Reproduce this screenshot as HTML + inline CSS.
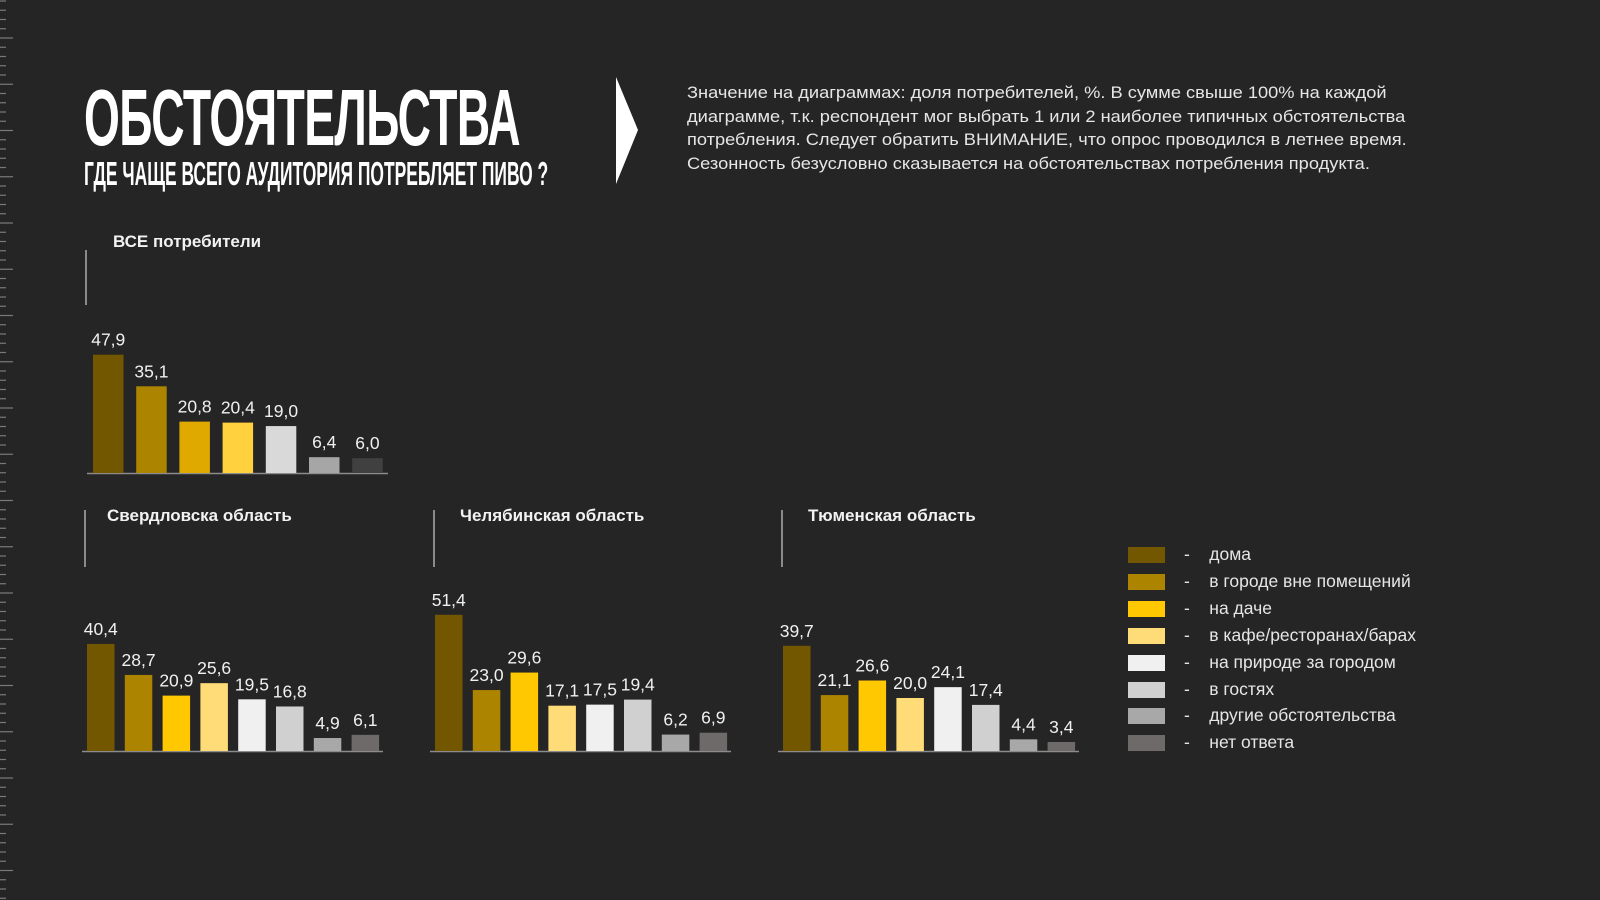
<!DOCTYPE html>
<html><head><meta charset="utf-8">
<style>
html,body{margin:0;padding:0;background:#252525;}
body{width:1600px;height:900px;position:relative;overflow:hidden;font-family:"Liberation Sans","DejaVu Sans",sans-serif;color:#fff;}
.abs{position:absolute;}
#title{left:84px;top:78px;font-family:"Liberation Sans Narrow","Liberation Sans",sans-serif;font-weight:bold;font-size:80px;line-height:80px;white-space:nowrap;transform-origin:0 0;letter-spacing:-1px;}
#subtitle{left:84px;top:157px;font-family:"Liberation Sans Narrow","Liberation Sans",sans-serif;font-weight:bold;font-size:33px;line-height:33px;white-space:nowrap;transform-origin:0 0;}
#note{left:687px;top:81px;font-size:17px;line-height:23.7px;color:#e6e6e6;white-space:nowrap;transform-origin:0 0;}
.clabel{font-weight:bold;font-size:17px;color:#f2f2f2;white-space:nowrap;}
.vline{width:2px;background:#8a8a8a;}
.leg{font-size:17.5px;color:#e6e6e6;white-space:nowrap;}
</style></head><body>
<svg id="ruler" class="abs" style="left:0;top:0" width="20" height="900"></svg>
<div id="title" class="abs">ОБСТОЯТЕЛЬСТВА</div>
<div id="subtitle" class="abs">ГДЕ ЧАЩЕ ВСЕГО АУДИТОРИЯ ПОТРЕБЛЯЕТ ПИВО ?</div>
<svg class="abs" style="left:614px;top:76px" width="26" height="110"><polygon points="2,1 24,54 2,108" fill="#fff"/></svg>
<div id="note" class="abs">Значение на диаграммах: доля потребителей, %. В сумме свыше 100% на каждой<br>диаграмме, т.к. респондент мог выбрать 1 или 2 наиболее типичных обстоятельства<br>потребления. Следует обратить ВНИМАНИЕ, что опрос проводился в летнее время.<br>Сезонность безусловно сказывается на обстоятельствах потребления продукта.</div>

<div class="abs vline" style="left:85px;top:250px;height:55px"></div>
<div class="abs clabel" style="left:113px;top:232px">ВСЕ потребители</div>
<div class="abs vline" style="left:84px;top:510px;height:57px"></div>
<div class="abs clabel" style="left:107px;top:506px">Свердловска область</div>
<div class="abs vline" style="left:433px;top:510px;height:57px"></div>
<div class="abs clabel" style="left:460px;top:506px">Челябинская область</div>
<div class="abs vline" style="left:781px;top:510px;height:57px"></div>
<div class="abs clabel" style="left:808px;top:506px">Тюменская область</div>

<svg id="charts" class="abs" style="left:0;top:0" width="1600" height="900"></svg>
<div id="legend"></div>

<script>
const categories = ["дома","в городе вне помещений","на даче","в кафе/ресторанах/барах","на природе за городом","в гостях","другие обстоятельства","нет ответа"];
const allValues = [47.9,35.1,20.8,20.4,19.0,6.4,6.0];
const sverdlovskValues = [40.4,28.7,20.9,25.6,19.5,16.8,4.9,6.1];
const chelyabinskValues = [51.4,23.0,29.6,17.1,17.5,19.4,6.2,6.9];
const tyumenValues = [39.7,21.1,26.6,20.0,24.1,17.4,4.4,3.4];

const colors = ["#725700","#ad8400","#ffc800","#ffdc78","#f0f0f0","#d0d0d0","#a8a8a8","#6f6a6a"];
const allColors = ["#725700","#ad8400","#e0a900","#ffd13f","#d9d9d9","#a6a6a6","#404040"];
const NS = "http://www.w3.org/2000/svg";
const svg = document.getElementById('charts');

function drawChart(name, values, cols, x0, step, bw, base, scale, axisX1, axisX2){
  const g = document.createElementNS(NS,'g');
  
  
  svg.appendChild(g);
  const ax = document.createElementNS(NS,'line');
  ax.setAttribute('x1',axisX1);ax.setAttribute('x2',axisX2);ax.setAttribute('y1',base+0.5);ax.setAttribute('y2',base+0.5);
  ax.setAttribute('stroke','#8c8c8c');ax.setAttribute('stroke-width','1.5');
  
  
  g.appendChild(ax);
  values.forEach((v,i)=>{
    const x = x0 + i*step, h = v*scale;
    const r = document.createElementNS(NS,'rect');
    r.setAttribute('x',x);r.setAttribute('y',base-h);r.setAttribute('width',bw);r.setAttribute('height',h);
    r.setAttribute('fill',cols[i]);
    
    
    g.appendChild(r);
    const t = document.createElementNS(NS,'text');
    t.setAttribute('x',x+bw/2);t.setAttribute('y',base-h-9);
    t.setAttribute('text-anchor','middle');t.setAttribute('fill','#f0f0f0');
    t.setAttribute('font-size','17.5');t.setAttribute('font-family','"Liberation Sans", sans-serif');
    t.textContent = v.toFixed(1).replace('.',',');
    
    
    g.appendChild(t);
  });
}
drawChart('all-chart', allValues, allColors, 93, 43.2, 30.5, 473, 2.47, 87, 388);
drawChart('sverdlovsk-chart', sverdlovskValues, colors, 87, 37.8, 27.5, 751, 2.65, 82, 383);
drawChart('chelyabinsk-chart', chelyabinskValues, colors, 435, 37.8, 27.5, 751, 2.65, 430, 731);
drawChart('tyumen-chart', tyumenValues, colors, 783, 37.8, 27.5, 751, 2.65, 778, 1079);

const leg = document.getElementById('legend');
categories.forEach((c,i)=>{
  const y = 555 + i*26.9;
  const s = document.createElement('div');
  s.className='abs';
  s.style.cssText=`left:1128px;top:${y-8}px;width:37px;height:16px;background:${colors[i]}`;
  
  
  leg.appendChild(s);
  const t = document.createElement('div');
  t.className='abs leg';
  t.style.cssText=`left:1184px;top:${y-11}px`;
  t.innerHTML = '-&nbsp;&nbsp;&nbsp;&nbsp;' + c;
  
  
  leg.appendChild(t);
});

const ruler = document.getElementById('ruler');
for(let i=0;i<98;i++){
  const y = 1 + i*9.25;
  const l = document.createElementNS(NS,'line');
  const long = (i%5)===4;
  l.setAttribute('x1',0);l.setAttribute('x2',long?13:6);l.setAttribute('y1',y);l.setAttribute('y2',y);
  l.setAttribute('stroke','#7a7a7a');l.setAttribute('stroke-width','1.2');
  
  
  ruler.appendChild(l);
}

function fit(id, w){
  const el=document.getElementById(id);
  const cw=el.scrollWidth;
  el.style.transform=`scaleX(${w/cw})`;
}
fit('title', 436);
fit('subtitle', 464);
fit('note', 720);
</script>
</body></html>
